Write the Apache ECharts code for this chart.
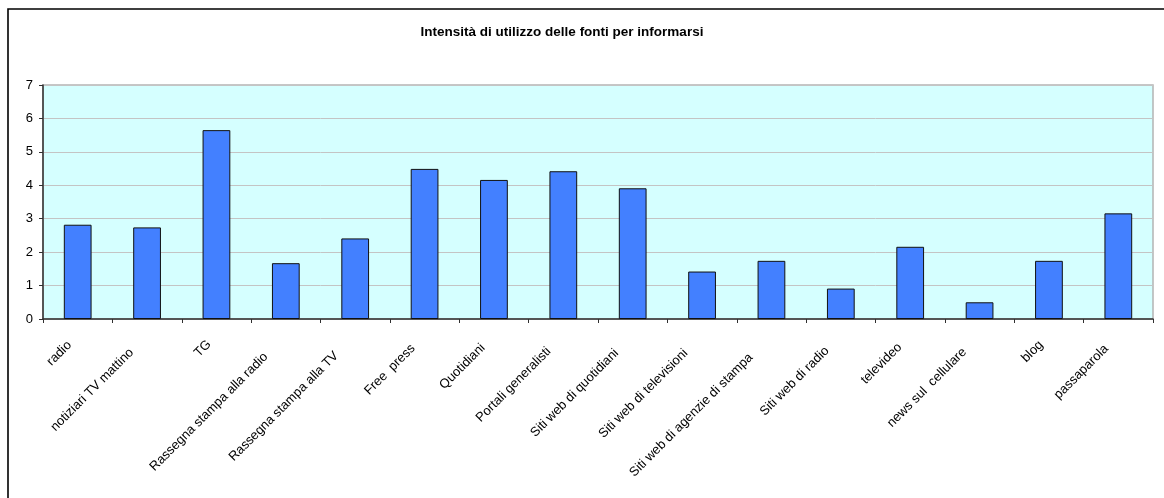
<!DOCTYPE html>
<html>
<head>
<meta charset="utf-8">
<style>
  html, body { margin: 0; padding: 0; background: #ffffff; }
  #chart { width: 1164px; height: 498px; }
</style>
<script src="https://cdn.jsdelivr.net/npm/echarts@6/dist/echarts.min.js"></script>
</head>
<body>
<div id="chart"></div>
<script>
// Fonti di informazione e intensità media di utilizzo (scala 0–7)
const titleText = 'Intensità di utilizzo delle fonti per informarsi';

const categories = [
  'radio',
  'notiziari TV mattino',
  'TG',
  'Rassegna stampa alla radio',
  'Rassegna stampa alla TV',
  'Free  press',
  'Quotidiani',
  'Portali generalisti',
  'Siti web di quotidiani',
  'Siti web di televisioni',
  'Siti web di agenzie di stampa',
  'Siti web di radio',
  'televideo',
  'news sul  cellulare',
  'blog',
  'passaparola'
];

const intensita = [2.82, 2.74, 5.65, 1.67, 2.41, 4.49, 4.16, 4.42, 3.91, 1.42, 1.74, 0.91, 2.16, 0.50, 1.74, 3.16];

const yTicks = { min: 0, max: 7, step: 1 };

const labelFont = 'Liberation Sans, Arial, sans-serif';
const labelSize = 13;

// Slanted category labels slide further down-left the longer they are,
// so each label gets trailing padding proportional to its rendered width.
const measureCtx = document.createElement('canvas').getContext('2d');
measureCtx.font = labelSize + 'px ' + labelFont;
const labelRich = {};
categories.forEach(function (name, i) {
  const w = measureCtx.measureText(name).width;
  labelRich['c' + i] = {
    fontFamily: labelFont,
    fontSize: labelSize,
    color: '#000000',
    padding: [0, 8 + 0.125 * w, 0, 0]
  };
});

const chart = echarts.init(document.getElementById('chart'), null, { renderer: 'canvas' });

chart.setOption({
  animation: false,
  backgroundColor: '#ffffff',
  title: {
    text: titleText,
    left: 557,
    top: 20,
    textAlign: 'center',
    textStyle: {
      fontFamily: labelFont,
      fontSize: 13.5,
      fontWeight: 'bold',
      color: '#000000'
    }
  },
  graphic: [
    {
      // outer chart frame (continues past the right and bottom edges)
      type: 'rect',
      silent: true,
      z: -1,
      shape: { x: 8, y: 9, width: 1200, height: 520 },
      style: { fill: 'none', stroke: '#000000', lineWidth: 1.6 }
    }
  ],
  grid: {
    left: 43,
    right: 11,
    top: 85,
    bottom: 179,
    show: true,
    backgroundColor: '#d5ffff',
    borderColor: '#b4b4b4',
    borderWidth: 1.5
  },
  xAxis: {
    type: 'category',
    data: categories,
    boundaryGap: true,
    axisLine: { show: true, lineStyle: { color: '#303030', width: 1.5 } },
    axisTick: { show: true, length: 4, lineStyle: { color: '#303030' } },
    axisLabel: {
      interval: 0,
      rotate: 45,
      margin: 16,
      fontFamily: labelFont,
      fontSize: labelSize,
      color: '#000000',
      formatter: function (value, index) {
        return '{c' + index + '|' + value + '}';
      },
      rich: labelRich
    },
    splitLine: { show: false }
  },
  yAxis: {
    type: 'value',
    min: yTicks.min,
    max: yTicks.max,
    interval: yTicks.step,
    axisLine: { show: true, lineStyle: { color: '#303030', width: 1.5 } },
    axisTick: { show: true, length: 4, lineStyle: { color: '#303030' } },
    axisLabel: {
      margin: 10,
      fontFamily: labelFont,
      fontSize: 13,
      color: '#000000'
    },
    splitLine: { show: true, lineStyle: { color: '#c4c4c4', width: 1 } }
  },
  series: [
    {
      type: 'bar',
      data: intensita,
      barWidth: '40%',
      itemStyle: {
        color: '#4380ff',
        borderColor: '#101010',
        borderWidth: 1
      }
    }
  ]
});
</script>
</body>
</html>
